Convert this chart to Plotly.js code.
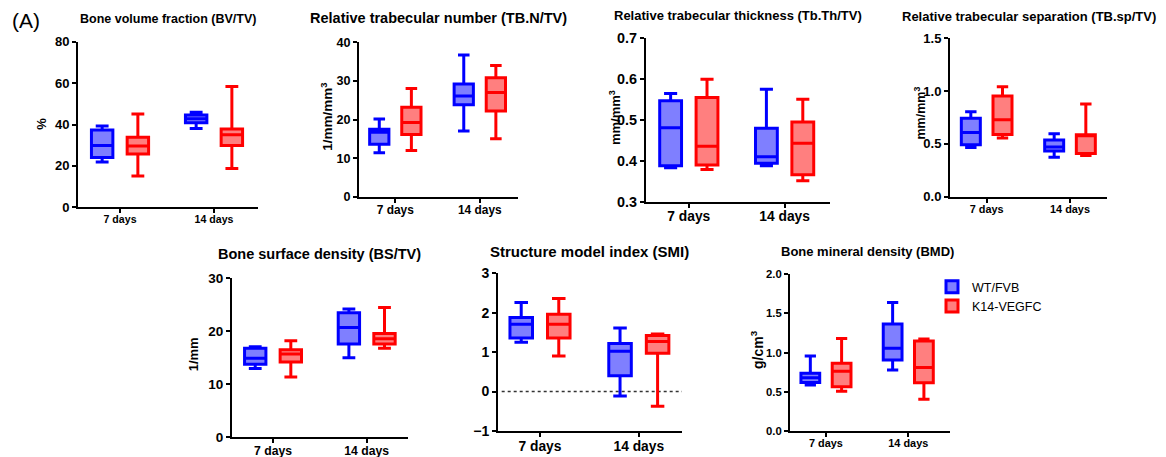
<!DOCTYPE html>
<html>
<head>
<meta charset="utf-8">
<script src="https://cdn.plot.ly/plotly-3.0.1.min.js"></script>
<style>html,body{margin:0;padding:0;background:#fff;}#chart{width:1166px;height:457px;}</style>
</head>
<body>
<div id="chart"></div>
<script>
// ---------- DATA ----------
const categories = ['7 days', '14 days'];
const groupNames = ['WT/FVB', 'K14-VEGFC'];

// Each: [7 days, 14 days]
const bvtvWT   = { lower: [21.9, 38.1], q1: [24.1, 40.9], median: [29.8, 42.8], q3: [37.3, 44.6], upper: [39.3, 45.9] };
const bvtvK14  = { lower: [15.1, 18.8], q1: [25.8, 29.8], median: [29.6, 35.1], q3: [33.8, 37.8], upper: [45.1, 58.3] };

const tbnWT    = { lower: [11.4, 17.0], q1: [13.6, 23.8], median: [16.7, 26.1], q3: [17.5, 29.2], upper: [20.1, 36.7] };
const tbnK14   = { lower: [12.0, 15.0], q1: [16.1, 22.2], median: [19.2, 27.0], q3: [23.2, 30.8], upper: [28.0, 34.0] };

const tbthWT   = { lower: [0.383, 0.388], q1: [0.388, 0.394], median: [0.481, 0.410], q3: [0.547, 0.480], upper: [0.565, 0.575] };
const tbthK14  = { lower: [0.379, 0.351], q1: [0.390, 0.366], median: [0.436, 0.443], q3: [0.555, 0.495], upper: [0.600, 0.551] };

const tbspWT   = { lower: [0.467, 0.373], q1: [0.493, 0.433], median: [0.609, 0.470], q3: [0.742, 0.537], upper: [0.805, 0.597] };
const tbspK14  = { lower: [0.556, 0.390], q1: [0.590, 0.410], median: [0.729, 0.580], q3: [0.954, 0.587], upper: [1.042, 0.878] };

const bstvWT   = { lower: [13.0, 15.0], q1: [13.8, 17.6], median: [14.9, 20.7], q3: [16.8, 23.5], upper: [17.1, 24.2] };
const bstvK14  = { lower: [11.4, 16.8], q1: [14.2, 17.6], median: [15.7, 18.6], q3: [16.5, 19.6], upper: [18.2, 24.5] };

const smiWT    = { lower: [1.25, -0.11], q1: [1.36, 0.40], median: [1.71, 1.02], q3: [1.88, 1.22], upper: [2.26, 1.61] };
const smiK14   = { lower: [0.90, -0.37], q1: [1.36, 0.97], median: [1.71, 1.27], q3: [1.96, 1.42], upper: [2.36, 1.46] };

const bmdWT    = { lower: [0.587, 0.779], q1: [0.620, 0.906], median: [0.680, 1.055], q3: [0.736, 1.366], upper: [0.957, 1.640] };
const bmdK14   = { lower: [0.506, 0.404], q1: [0.566, 0.617], median: [0.762, 0.809], q3: [0.864, 1.149], upper: [1.180, 1.174] };

const panelTitles = [
  'Bone volume fraction (BV/TV)',
  'Relative trabecular number (TB.N/TV)',
  'Relative trabecular thickness (Tb.Th/TV)',
  'Relative trabecular separation (TB.sp/TV)',
  'Bone surface density (BS/TV)',
  'Structure model index (SMI)',
  'Bone mineral density (BMD)'
];
const yTitles = ['%', '1/mm/mm<sup>3</sup>', 'mm/mm<sup>3</sup>', 'mm/mm<sup>3</sup>', '1/mm', '', 'g/cm<sup>3</sup>'];
const yRanges = [[0, 80], [0, 40], [0.3, 0.7], [0, 1.5], [0, 30], [-1, 3], [0, 2]];
const yDticks = [20, 10, 0.1, 0.5, 10, 1, 0.5];
const yFormats = ['', '', '.1f', '.1f', '', '', '.1f'];

// ---------- LAYOUT CONSTANTS ----------
const W = 1166, H = 457;
const FONT = 'Liberation Sans, Arial, sans-serif';
const BLUE = '#0000ff', RED = '#ff0000';
const BLUE_FILL = 'rgba(0,0,255,0.5)', RED_FILL = 'rgba(255,0,0,0.5)';

const panelData = [
  [bvtvWT, bvtvK14], [tbnWT, tbnK14], [tbthWT, tbthK14], [tbspWT, tbspK14],
  [bstvWT, bstvK14], [smiWT, smiK14], [bmdWT, bmdK14]
];

// pixel boxes of plot areas
const geom = [
  { px: [78, 258],  py: [41.7, 207.3],  xr: [-0.447, 1.468], tFont: 12.5, tPos: [168, 19],    xf: 10.6, yf: 13,   atF: 13,   atPos: [40.7, 124] },
  { px: [359, 518], py: [42.3, 196.7],  xr: [-0.43, 1.452],  tFont: 14.5, tPos: [438, 18.3],  xf: 11.9, yf: 12.6, atF: 13.5, atPos: [326.7, 117] },
  { px: [646, 830], py: [38.3, 201.7],  xr: [-0.447, 1.474], tFont: 13,   tPos: [737.8, 15.7],xf: 13.8, yf: 14.4, atF: 13,   atPos: [615, 118] },
  { px: [950, 1107],py: [38.3, 196.7],  xr: [-0.44, 1.444],  tFont: 13,   tPos: [1029, 16],   xf: 10.9, yf: 13,   atF: 12.5, atPos: [919.5, 113] },
  { px: [232, 408], py: [278.3, 437.3], xr: [-0.438, 1.441], tFont: 14.5, tPos: [319.7, 254], xf: 12.2, yf: 13.5, atF: 13,   atPos: [193.3, 354] },
  { px: [498, 682], py: [273.3, 431],   xr: [-0.425, 1.437], tFont: 15,   tPos: [589.5, 251.7],xf: 13.8, yf: 14,  atF: 13,   atPos: [470, 352] },
  { px: [790, 950], py: [274.3, 431],   xr: [-0.437, 1.507], tFont: 13,   tPos: [867.5, 251.7],xf: 10.9, yf: 11.3, atF: 14,  atPos: [757, 350] }
];

const traces = [];
const layout = {
  width: W, height: H,
  margin: { l: 0, r: 0, t: 0, b: 0 },
  paper_bgcolor: '#fff', plot_bgcolor: 'rgba(0,0,0,0)',
  boxmode: 'group', boxgap: 0.24, boxgroupgap: 0.4,
  showlegend: true,
  legend: {
    x: 932 / W, xanchor: 'left', y: 1 - 272 / H, yanchor: 'top',
    font: { family: FONT, size: 12.5, color: '#000' },
    bgcolor: 'rgba(0,0,0,0)', tracegroupgap: 0, itemwidth: 30
  },
  annotations: [], shapes: []
};

panelData.forEach((pair, i) => {
  const n = i + 1;
  const xa = n === 1 ? 'x' : 'x' + n;
  const ya = n === 1 ? 'y' : 'y' + n;
  const g = geom[i];
  pair.forEach((d, k) => {
    traces.push({
      type: 'box', name: groupNames[k], legendgroup: groupNames[k],
      showlegend: i === 6,
      alignmentgroup: 'panel' + n, offsetgroup: 'grp' + k,
      x: categories, q1: d.q1, median: d.median, q3: d.q3,
      lowerfence: d.lower, upperfence: d.upper,
      xaxis: xa, yaxis: ya,
      fillcolor: k === 0 ? BLUE_FILL : RED_FILL,
      line: { color: k === 0 ? BLUE : RED, width: 3 },
      whiskerwidth: 0.6, boxpoints: false, hoverinfo: 'skip'
    });
  });
  const axCommon = {
    showline: true, linecolor: '#000', linewidth: 2,
    ticks: 'outside', ticklen: 4, tickwidth: 2, tickcolor: '#000',
    showgrid: false, zeroline: false, fixedrange: true
  };
  layout['xaxis' + (n === 1 ? '' : n)] = Object.assign({}, axCommon, {
    domain: [g.px[0] / W, g.px[1] / W], anchor: ya, type: 'category',
    range: g.xr, ticklabelstandoff: -3,
    tickfont: { family: FONT, size: g.xf, color: '#000', weight: 'bold' }
  });
  layout['yaxis' + (n === 1 ? '' : n)] = Object.assign({}, axCommon, {
    domain: [1 - g.py[1] / H, 1 - g.py[0] / H], anchor: xa,
    range: yRanges[i], dtick: yDticks[i], tick0: yRanges[i][0], tickformat: yFormats[i],
    tickfont: { family: FONT, size: g.yf, color: '#000', weight: 'bold' }
  });
  layout.annotations.push({
    xref: 'paper', yref: 'paper', x: g.tPos[0] / W, y: 1 - g.tPos[1] / H,
    xanchor: 'center', yanchor: 'middle', showarrow: false,
    text: panelTitles[i],
    font: { family: FONT, size: g.tFont, color: '#000', weight: 'bold' }
  });
  if (yTitles[i]) {
    layout.annotations.push({
      xref: 'paper', yref: 'paper', x: g.atPos[0] / W, y: 1 - g.atPos[1] / H,
      xanchor: 'center', yanchor: 'middle', showarrow: false, textangle: -90,
      text: yTitles[i],
      font: { family: FONT, size: g.atF, color: '#000', weight: 'bold' }
    });
  }
});

// panel label
layout.annotations.push({
  xref: 'paper', yref: 'paper', x: 10 / W, y: 1 - 20 / H, xanchor: 'left', yanchor: 'middle',
  showarrow: false, text: '(A)', font: { family: FONT, size: 21, color: '#000' }
});

// dotted zero reference line in SMI panel
layout.shapes.push({
  type: 'line', xref: 'x6 domain', yref: 'y6', x0: 0.02, x1: 1, y0: 0, y1: 0,
  layer: 'below', line: { color: '#333', width: 1.5, dash: 'dot' }
});

Plotly.newPlot('chart', traces, layout, { staticPlot: true, displayModeBar: false });
</script>
</body>
</html>
